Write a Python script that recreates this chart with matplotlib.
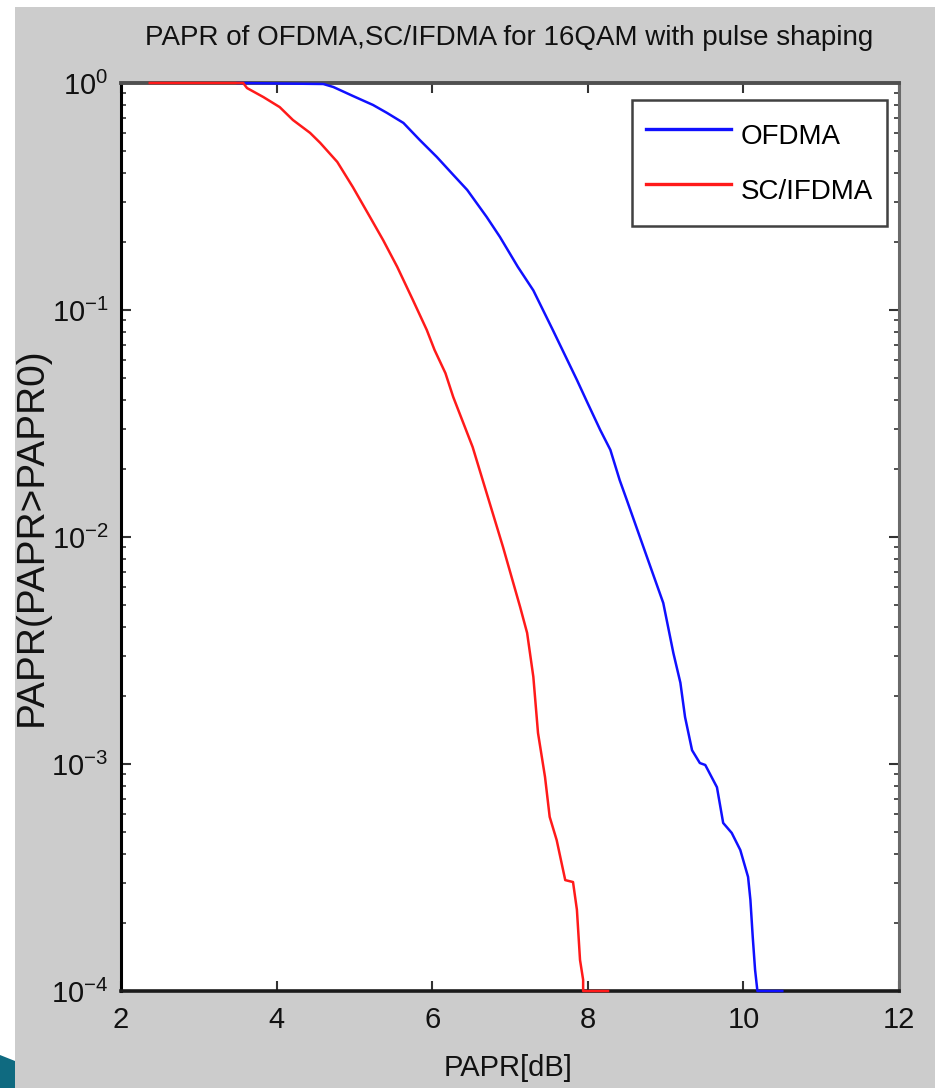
import matplotlib
matplotlib.use("Agg")
import matplotlib.pyplot as plt
from matplotlib.patches import Rectangle, Polygon
from matplotlib.ticker import LogLocator, FixedLocator
import numpy as np

# ---- data ----
title_text = "PAPR of OFDMA,SC/IFDMA for 16QAM with pulse shaping"
xlabel_text = "PAPR[dB]"
ylabel_text = "PAPR(PAPR>PAPR0)"
series_names = ["OFDMA", "SC/IFDMA"]
x_ticks = [2, 4, 6, 8, 10, 12]

ofdma_x = [3.50, 4.60, 4.73, 4.98, 5.24, 5.42, 5.63, 5.84, 6.06, 6.27, 6.45,
           6.70, 6.87, 7.10, 7.30, 7.55, 7.86, 7.99, 8.16, 8.29, 8.41, 8.50,
           8.76, 8.97, 9.10, 9.19, 9.25, 9.34, 9.44, 9.51, 9.66, 9.74, 9.85,
           9.96, 10.06, 10.09, 10.12, 10.15, 10.18, 10.50]
ofdma_y = [1.0, 0.99, 0.96, 0.877, 0.80, 0.738, 0.667, 0.561, 0.472, 0.394,
           0.338, 0.257, 0.210, 0.155, 0.122, 0.0817, 0.0492, 0.0394, 0.0296,
           0.0242, 0.0178, 0.0146, 0.00817, 0.00512, 0.00308, 0.00228,
           0.00161, 0.00115, 0.00101, 0.00099, 0.00079, 0.00055, 0.000497,
           0.000418, 0.000318, 0.000252, 0.000173, 0.000124, 1e-4, 1e-4]

scifdma_x = [2.37, 3.57, 3.62, 3.83, 4.04, 4.21, 4.43, 4.56, 4.78, 4.98, 5.20,
             5.37, 5.55, 5.75, 5.93, 6.03, 6.17, 6.27, 6.52, 6.70, 6.91, 7.13,
             7.22, 7.30, 7.36, 7.45, 7.51, 7.60, 7.71, 7.81, 7.86, 7.90, 7.94,
             7.94, 8.26]
scifdma_y = [1.0, 1.0, 0.95, 0.867, 0.783, 0.687, 0.603, 0.545, 0.449, 0.348,
             0.257, 0.203, 0.155, 0.111, 0.0817, 0.0667, 0.0527, 0.0414,
             0.0249, 0.0156, 0.00904, 0.00492, 0.00378, 0.00242, 0.00137,
             0.000877, 0.000585, 0.000462, 0.000308, 0.000302, 0.000228,
             0.000137, 0.000112, 1e-4, 1e-4]

# ---- figure ----
W, H = 935, 1088
fig = plt.figure(figsize=(W / 100, H / 100), dpi=100, facecolor="white")

def fx(px):
    return px / W

def fy(py):
    return 1 - py / H

# gray panel background (white strips left & top)
fig.patches.append(Rectangle((fx(15), 0), 1 - fx(15), fy(7), transform=fig.transFigure,
                             facecolor="#cccccc", edgecolor="none", zorder=-10))
# teal corner decoration
fig.patches.append(Polygon([(fx(0), fy(1055)), (fx(15), fy(1061)), (fx(15), fy(1088)),
                            (fx(0), fy(1088))], closed=True, transform=fig.transFigure,
                           facecolor="#0f6a80", edgecolor="none", zorder=-9))

plt.rcParams["font.family"] = ["Liberation Sans", "DejaVu Sans"]
plt.rcParams["mathtext.fontset"] = "custom"
plt.rcParams["mathtext.rm"] = "Liberation Sans"
plt.rcParams["mathtext.it"] = "Liberation Sans"

ax = fig.add_axes([fx(121), fy(991), fx(899) - fx(121), fy(83) - fy(991)])
ax.set_facecolor("white")

ax.plot(ofdma_x, ofdma_y, color="#1010ff", lw=1.8, label=series_names[0],
        clip_on=False, zorder=4)
ax.plot(scifdma_x, scifdma_y, color="#ff1a1a", lw=1.8, label=series_names[1],
        clip_on=False, zorder=4)

ax.set_yscale("log")
ax.set_xlim(2, 12)
ax.set_ylim(1e-4, 1)
ax.xaxis.set_major_locator(FixedLocator(x_ticks))
ax.yaxis.set_major_locator(LogLocator(base=10, numticks=10))
ax.yaxis.set_minor_locator(LogLocator(base=10, subs=np.arange(2, 10), numticks=20))

ax.tick_params(axis="both", which="both", direction="in", top=True, right=True,
               colors="#333333", labelcolor="#111111")
ax.tick_params(axis="both", which="major", length=7, width=1.5, labelsize=21)
ax.tick_params(axis="both", which="minor", length=3.5, width=1.2)
ax.tick_params(axis="x", which="major", pad=11)
ax.tick_params(axis="y", which="major", pad=9)

for side, col, lw in [("top", "#505050", 2.8), ("left", "#000000", 2.2),
                      ("bottom", "#1a1a1a", 2.6), ("right", "#6a6a6a", 2.2)]:
    ax.spines[side].set_color(col)
    ax.spines[side].set_linewidth(lw)

leg = ax.legend(loc="upper right", bbox_to_anchor=((887 - 121) / 778, (991 - 100) / 908),
                fontsize=20, frameon=True, fancybox=False, handlelength=3.05,
                handleheight=2.0, handletextpad=0.36, labelspacing=0.43,
                borderpad=0.5, borderaxespad=0)
leg.get_frame().set_edgecolor("#111111")
leg.get_frame().set_linewidth(1.8)
for line in leg.get_lines():
    line.set_linewidth(2.4)

fig.text(fx(509), fy(38), title_text, ha="center", va="center", fontsize=20,
         color="#111111")
fig.text(fx(508), fy(1054), xlabel_text, ha="center", va="top", fontsize=21,
         color="#111111")
fig.text(fx(32), fy(537), ylabel_text, ha="center", va="center", rotation=90,
         fontsize=28, color="#111111")

fig.savefig("out.png", dpi=100, facecolor=fig.get_facecolor())
